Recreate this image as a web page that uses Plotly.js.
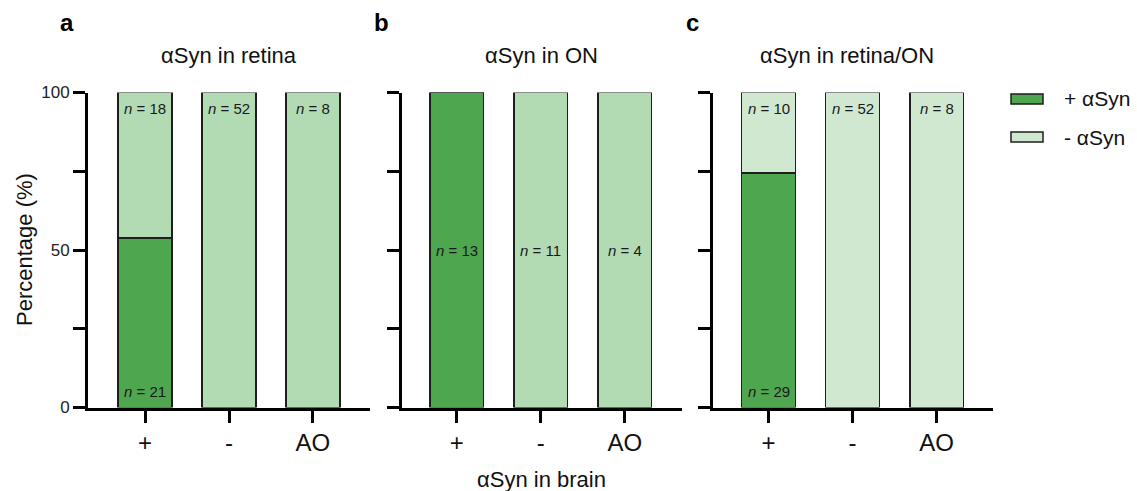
<!DOCTYPE html>
<html>
<head>
<meta charset="utf-8">
<script src="https://cdn.plot.ly/plotly-3.0.1.min.js"></script>
<style>html,body{margin:0;padding:0;background:#fff;}#chart{width:1137px;height:491px;}</style>
</head>
<body>
<div id="chart"></div>
<script>
// ---- data ----
const categories = ['+', '-', 'AO'];
const panelTitles = ['αSyn in retina', 'αSyn in ON', 'αSyn in retina/ON'];
const panelLetters = ['a', 'b', 'c'];
const seriesNames = ['+ αSyn', '- αSyn'];

// percentages (+ αSyn / - αSyn) per brain category
const posRetina = [53.8, 0, 0];
const negRetina = [46.2, 100, 100];
const posON = [100, 0, 0];
const negON = [0, 100, 100];
const posRetinaON = [74.4, 0, 0];
const negRetinaON = [25.6, 100, 100];

// sample counts
const nPosRetina = [21, null, null];
const nNegRetina = [18, 52, 8];
const nON = [13, 11, 4];
const nPosRetinaON = [29, null, null];
const nNegRetinaON = [10, 52, 8];

// ---- styling ----
const FONT = 'Arial, "Liberation Sans", Helvetica, sans-serif';
const DARK = '#4ea64e';
const LIGHT_AB = '#b3dbb3';
const LIGHT_C = '#d0e8d0';
const EDGE = '#1e1e1e';
const W = 1137, H = 491;

const xDomains = [[88 / W, 370 / W], [402 / W, 682 / W], [713 / W, 993 / W]];
const xRanges = [[-0.68, 2.68], [-0.65, 2.68], [-0.66, 2.67]];
const yDomain = [1 - 407.5 / H, 1 - 92.5 / H];

const panels = [
  {pos: posRetina, neg: negRetina, light: LIGHT_AB},
  {pos: posON, neg: negON, light: LIGHT_AB},
  {pos: posRetinaON, neg: negRetinaON, light: LIGHT_C}
];

const traces = [];
panels.forEach((p, i) => {
  const xa = i === 0 ? 'x' : 'x' + (i + 1);
  const ya = i === 0 ? 'y' : 'y' + (i + 1);
  traces.push({
    type: 'bar', x: categories, y: p.pos, name: seriesNames[0], xaxis: xa, yaxis: ya,
    width: 0.64, marker: {color: DARK, line: {color: EDGE, width: 1.5}}, showlegend: false, hoverinfo: 'skip'
  });
  traces.push({
    type: 'bar', x: categories, y: p.neg, name: seriesNames[1], xaxis: xa, yaxis: ya,
    width: 0.64, marker: {color: p.light, line: {color: EDGE, width: 1.5}}, showlegend: false, hoverinfo: 'skip'
  });
});

const annotations = [];
function nLabel(xref, yref, xcat, yv, n) {
  if (n === null || n === undefined) return;
  annotations.push({
    xref: xref, yref: yref, x: xcat, y: yv, text: '<i>n</i> = ' + n, showarrow: false,
    font: {family: FONT, size: 15, color: '#1a1a1a'}, xanchor: 'center', yanchor: 'middle'
  });
}
categories.forEach((c, j) => {
  nLabel('x', 'y', c, 94.8, nNegRetina[j]);
  nLabel('x', 'y', c, 5.2, nPosRetina[j]);
  nLabel('x2', 'y2', c, 50, nON[j]);
  nLabel('x3', 'y3', c, 94.8, nNegRetinaON[j]);
  nLabel('x3', 'y3', c, 5.2, nPosRetinaON[j]);
});

// panel titles and letters
const titleX = [229, 541, 847];
const letterX = [67, 381, 692];
for (let i = 0; i < 3; i++) {
  annotations.push({xref: 'paper', yref: 'paper', x: titleX[i] / W, y: 1 - 55 / H, text: panelTitles[i],
    showarrow: false, xanchor: 'center', yanchor: 'middle', font: {family: FONT, size: 22, color: '#111'}});
  annotations.push({xref: 'paper', yref: 'paper', x: letterX[i] / W, y: 1 - 22 / H, text: '<b>' + panelLetters[i] + '</b>',
    showarrow: false, xanchor: 'center', yanchor: 'middle', font: {family: FONT, size: 24, color: '#000'}});
}
// axis titles
annotations.push({xref: 'paper', yref: 'paper', x: 24 / W, y: 1 - 250 / H, text: 'Percentage (%)', textangle: -90,
  showarrow: false, xanchor: 'center', yanchor: 'middle', font: {family: FONT, size: 22, color: '#111'}});
annotations.push({xref: 'paper', yref: 'paper', x: 541 / W, y: 1 - 479 / H, text: 'αSyn in brain',
  showarrow: false, xanchor: 'center', yanchor: 'middle', font: {family: FONT, size: 22, color: '#111'}});

// legend (custom)
const legendColors = [DARK, LIGHT_C];
const legendY = [99, 137];
const shapes = [];
for (let k = 0; k < 2; k++) {
  shapes.push({type: 'rect', xref: 'paper', yref: 'paper', x0: 1011 / W, x1: 1043 / W,
    y0: 1 - (legendY[k] + 5) / H, y1: 1 - (legendY[k] - 5) / H,
    fillcolor: legendColors[k], line: {color: EDGE, width: 1.5}});
  annotations.push({xref: 'paper', yref: 'paper', x: 1062 / W, y: 1 - legendY[k] / H, text: seriesNames[k],
    showarrow: false, xanchor: 'left', yanchor: 'middle', font: {family: FONT, size: 21, color: '#111'}});
}

function xaxis(i) {
  return {
    domain: xDomains[i], range: xRanges[i], type: 'category', anchor: i === 0 ? 'y' : 'y' + (i + 1),
    showline: true, linewidth: 3, linecolor: '#000', ticks: 'outside', ticklen: 12, tickwidth: 3, tickcolor: '#000',
    tickfont: {family: FONT, size: 24, color: '#111'}, showgrid: false, zeroline: false, fixedrange: true
  };
}
function yaxis(i) {
  return {
    domain: yDomain, range: [0, 100], anchor: i === 0 ? 'x' : 'x' + (i + 1),
    showline: true, linewidth: 3, linecolor: '#000', ticks: 'outside', ticklen: 12, tickwidth: 3, tickcolor: '#000',
    tickvals: [0, 25, 50, 75, 100], ticktext: ['0', '', '50', '', '100'], showticklabels: i === 0,
    tickfont: {family: FONT, size: 17, color: '#222'}, showgrid: false, zeroline: false, fixedrange: true
  };
}

const layout = {
  width: W, height: H, margin: {l: 0, r: 0, t: 0, b: 0},
  paper_bgcolor: '#fff', plot_bgcolor: 'rgba(0,0,0,0)',
  barmode: 'stack', showlegend: false, font: {family: FONT},
  xaxis: xaxis(0), xaxis2: xaxis(1), xaxis3: xaxis(2),
  yaxis: yaxis(0), yaxis2: yaxis(1), yaxis3: yaxis(2),
  annotations: annotations, shapes: shapes
};

Plotly.newPlot('chart', traces, layout, {staticPlot: true, displayModeBar: false});
</script>
</body>
</html>
